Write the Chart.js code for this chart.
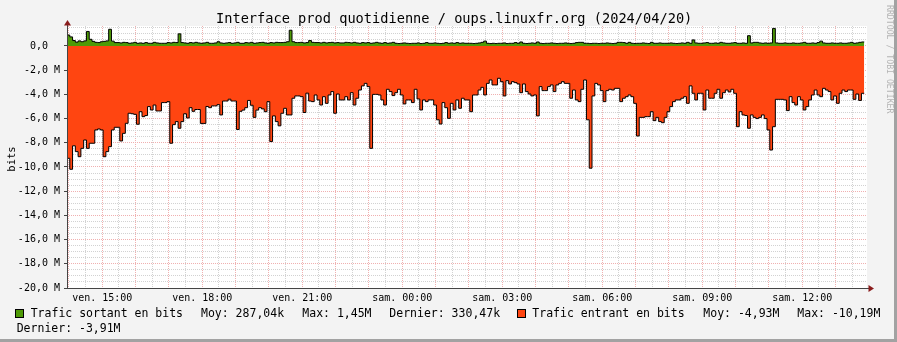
<!DOCTYPE html>
<html lang="fr">
<head>
<meta charset="utf-8">
<title>Interface prod quotidienne</title>
<script src="https://cdn.jsdelivr.net/npm/chart.js@4.4.1/dist/chart.umd.min.js"></script>
<style>
  html, body { margin: 0; padding: 0; }
  body { width: 897px; height: 342px; overflow: hidden; background: #f3f3f3;
         font-family: "DejaVu Sans Mono", monospace; color: #000; }
  #cadre { position: relative; width: 897px; height: 342px; }
  #graphe { position: absolute; left: 0; top: 0; }
  .txt { position: absolute; white-space: pre; line-height: 1.164; }
  #titre { left: 216px; top: 11.3px; font-size: 13.65px; }
  #unite { left: 10.5px; top: 159px; font-size: 10.5px; transform: translate(-50%, -50%) rotate(-90deg); }
  #marque { left: 884px; top: 5px; font-size: 8.2px; color: #b4b4b4; writing-mode: vertical-rl; }
  .leg { font-size: 11.5px; }
  .l1 { top: 306.8px; }
  .l2 { top: 321.8px; }
  .carre { position: absolute; top: 309px; width: 7px; height: 7px; border: 1px solid #000; }
  #ombreD { position: absolute; right: 0; top: 0; width: 3px; height: 342px; background: #a2a2a2; }
  #ombreB { position: absolute; left: 0; bottom: 0; width: 897px; height: 3px; background: #a2a2a2; }
</style>
</head>
<body>
<div id="cadre">
  <canvas id="graphe" width="897" height="342"></canvas>
  <div class="txt" id="titre">Interface prod quotidienne / oups.linuxfr.org (2024/04/20)</div>
  <div class="txt" id="unite">bits</div>
  <div class="txt" id="marque">RRDTOOL / TOBI OETIKER</div>

  <div class="carre" style="left:15px; background:#4e9a06"></div>
  <div class="txt leg l1" style="left:30.7px">Trafic sortant en bits</div>
  <div class="txt leg l1" style="left:201px">Moy: 287,04k</div>
  <div class="txt leg l1" style="left:302.3px">Max: 1,45M</div>
  <div class="txt leg l1" style="left:389.3px">Dernier: 330,47k</div>
  <div class="carre" style="left:517px; background:#ff4511"></div>
  <div class="txt leg l1" style="left:532.3px">Trafic entrant en bits</div>
  <div class="txt leg l1" style="left:703.3px">Moy: -4,93M</div>
  <div class="txt leg l1" style="left:797.3px">Max: -10,19M</div>
  <div class="txt leg l2" style="left:16.7px">Dernier: -3,91M</div>

  <div id="ombreD"></div>
  <div id="ombreB"></div>
</div>
<script>
// une mesure toutes les 5 minutes, en Mbit/s, premiere mesure ven. 13:56:30
const debut = 13 * 60 + 56.5;   // minutes depuis ven. 00:00
const pas = 5;
const duree = 24 * 60;

const sortant = [
  0.9, 0.75, 0.45, 0.32, 0.42, 0.35, 0.42, 1.2, 0.55, 0.38,
  0.3, 0.28, 0.35, 0.38, 0.42, 1.38, 0.4, 0.28, 0.28, 0.25,
  0.3, 0.28, 0.22, 0.25, 0.3, 0.22, 0.25, 0.22, 0.28, 0.22,
  0.22, 0.3, 0.25, 0.22, 0.22, 0.22, 0.28, 0.25, 0.3, 0.28,
  1.0, 0.28, 0.25, 0.22, 0.28, 0.25, 0.3, 0.25, 0.22, 0.25,
  0.3, 0.22, 0.22, 0.25, 0.35, 0.25, 0.22, 0.25, 0.28, 0.22,
  0.25, 0.3, 0.22, 0.22, 0.28, 0.25, 0.3, 0.22, 0.25, 0.28,
  0.3, 0.25, 0.22, 0.28, 0.25, 0.3, 0.28, 0.28, 0.3, 0.35,
  1.3, 0.35, 0.28, 0.28, 0.3, 0.25, 0.28, 0.45, 0.3, 0.28,
  0.28, 0.25, 0.3, 0.25, 0.28, 0.3, 0.25, 0.28, 0.25, 0.25,
  0.3, 0.28, 0.25, 0.3, 0.25, 0.22, 0.28, 0.25, 0.28, 0.22,
  0.25, 0.3, 0.25, 0.22, 0.28, 0.22, 0.25, 0.3, 0.22, 0.2,
  0.22, 0.25, 0.22, 0.2, 0.22, 0.22, 0.25, 0.2, 0.22, 0.28,
  0.22, 0.22, 0.25, 0.22, 0.2, 0.22, 0.28, 0.22, 0.25, 0.22,
  0.28, 0.22, 0.25, 0.22, 0.22, 0.22, 0.2, 0.22, 0.25, 0.3,
  0.4, 0.22, 0.2, 0.22, 0.2, 0.22, 0.22, 0.25, 0.2, 0.22,
  0.22, 0.28, 0.22, 0.33, 0.22, 0.2, 0.22, 0.25, 0.22, 0.33,
  0.22, 0.2, 0.22, 0.22, 0.25, 0.22, 0.2, 0.22, 0.22, 0.25,
  0.22, 0.2, 0.22, 0.28, 0.3, 0.3, 0.22, 0.22, 0.2, 0.22,
  0.22, 0.2, 0.22, 0.22, 0.25, 0.22, 0.2, 0.22, 0.3, 0.3,
  0.28, 0.22, 0.3, 0.22, 0.2, 0.22, 0.22, 0.25, 0.22, 0.2,
  0.3, 0.22, 0.22, 0.25, 0.22, 0.22, 0.22, 0.25, 0.22, 0.2,
  0.22, 0.25, 0.22, 0.3, 0.22, 0.5, 0.25, 0.22, 0.22, 0.25,
  0.28, 0.22, 0.22, 0.25, 0.22, 0.3, 0.25, 0.22, 0.22, 0.25,
  0.28, 0.22, 0.22, 0.25, 0.22, 0.85, 0.25, 0.3, 0.3, 0.25,
  0.22, 0.25, 0.22, 0.25, 1.45, 0.25, 0.22, 0.22, 0.25, 0.22,
  0.22, 0.25, 0.22, 0.22, 0.25, 0.3, 0.22, 0.22, 0.25, 0.22,
  0.28, 0.4, 0.25, 0.22, 0.22, 0.25, 0.22, 0.22, 0.25, 0.22,
  0.22, 0.25, 0.3, 0.22, 0.25, 0.3, 0.33
];

const entrant = [
  -9.28, -10.19, -8.25, -8.73, -9.15, -8.46, -7.77, -8.46, -8.04, -8.04,
  -6.94, -6.86, -6.94, -9.15, -8.73, -8.32, -6.94, -6.72, -6.72, -7.85,
  -7.22, -6.39, -5.56, -5.6, -5.65, -6.47, -5.43, -5.84, -5.75, -5.01,
  -5.29, -4.88, -5.37, -5.37, -4.68, -4.68, -4.6, -8.04, -6.5, -6.25,
  -6.8, -6.25, -5.6, -5.95, -5.1, -5.4, -5.25, -5.25, -6.4, -6.4,
  -5.0, -5.1, -4.95, -4.95, -4.85, -5.7, -4.55, -4.55, -4.4, -4.55,
  -4.55, -6.9, -5.4, -5.3, -5.1, -4.5, -4.9, -5.9, -5.3, -5.1,
  -5.2, -5.43, -4.6, -7.9, -5.78, -6.25, -6.6, -5.56, -5.15, -5.7,
  -5.7, -4.32, -4.13, -4.13, -4.19, -5.5, -3.9, -4.55, -4.6, -4.05,
  -4.46, -4.88, -4.19, -4.74, -4.05, -3.77, -5.56, -3.97, -4.46, -4.46,
  -4.19, -4.46, -3.86, -4.88, -4.32, -3.64, -3.3, -3.09, -3.36, -8.46,
  -4.0, -4.0, -4.05, -4.46, -4.88, -3.58, -3.77, -4.1, -3.86, -3.58,
  -4.05, -4.79, -4.46, -4.46, -4.68, -3.58, -4.38, -5.29, -4.46, -4.6,
  -4.46, -4.46, -4.88, -6.1, -6.45, -4.68, -5.1, -5.98, -4.74, -5.29,
  -4.46, -5.15, -4.32, -4.46, -4.46, -5.43, -4.05, -4.05, -3.64, -3.42,
  -4.05, -3.09, -2.81, -3.22, -3.22, -2.67, -2.95, -4.13, -2.87, -3.14,
  -2.95, -3.03, -3.14, -3.86, -3.14, -3.77, -3.97, -4.13, -4.05, -5.78,
  -3.36, -3.69, -3.69, -3.36, -3.22, -3.77, -3.22, -3.09, -2.95, -3.09,
  -3.09, -4.32, -3.64, -4.46, -4.6, -3.58, -2.81, -6.1, -10.1, -4.13,
  -3.09, -3.22, -3.69, -4.6, -3.69, -3.58, -3.64, -3.5, -3.5, -4.6,
  -4.32, -4.19, -4.05, -4.19, -4.74, -7.44, -5.9, -5.9, -5.84, -5.84,
  -5.43, -6.17, -5.9, -6.25, -6.34, -5.9, -5.43, -5.01, -4.6, -4.46,
  -4.46, -4.32, -4.19, -4.74, -3.3, -3.91, -4.46, -3.91, -3.91, -5.29,
  -3.64, -4.32, -4.32, -3.91, -3.58, -4.32, -3.86, -3.64, -3.8, -3.58,
  -3.91, -6.67, -5.43, -5.7, -5.75, -6.8, -5.7, -5.9, -6.0, -5.9,
  -5.7, -6.0, -6.94, -8.6, -6.67, -4.41, -4.41, -4.41, -4.46, -5.34,
  -4.19, -4.68, -4.88, -4.19, -4.46, -5.29, -5.01, -4.46, -4.05, -3.64,
  -4.05, -4.19, -3.5, -3.64, -3.77, -4.46, -4.13, -4.74, -3.91, -3.64,
  -3.77, -3.64, -3.64, -4.41, -3.97, -4.5, -3.91
];

// graduations
const valeursY = [-20, -18, -16, -14, -12, -10, -8, -6, -4, -2, 0];
const etiquettesY = ['-20,0 M', '-18,0 M', '-16,0 M', '-14,0 M', '-12,0 M', '-10,0 M',
                     '-8,0 M', '-6,0 M', '-4,0 M', '-2,0 M', '0,0  '];
const heuresX = [15, 18, 21, 24, 27, 30, 33, 36];
const etiquettesX = ['ven. 15:00', 'ven. 18:00', 'ven. 21:00', 'sam. 00:00',
                     'sam. 03:00', 'sam. 06:00', 'sam. 09:00', 'sam. 12:00'];
const yMin = -20, yMax = 1.65;

const gris = '#d2d2d2';
const rose = '#f0b0b0';

function serie(valeurs) {
  const pts = valeurs.map((v, k) => ({ x: debut + k * pas, y: v }));
  // la derniere mesure couvre encore un pas
  pts.push({ x: debut + valeurs.length * pas, y: valeurs[valeurs.length - 1] });
  return pts;
}

const fondEtAxes = {
  id: 'fondEtAxes',
  beforeDraw(chart) {
    const { ctx, chartArea: a } = chart;
    ctx.save();
    ctx.fillStyle = '#ffffff';
    ctx.fillRect(a.left, a.top, a.right - a.left, a.bottom - a.top);
    ctx.restore();
  },
  afterDatasetsDraw(chart) {
    const { ctx, chartArea: a } = chart;
    ctx.save();
    ctx.strokeStyle = '#444';
    ctx.lineWidth = 1;
    ctx.beginPath();
    ctx.moveTo(a.left + 0.5, a.bottom + 1);
    ctx.lineTo(a.left + 0.5, a.top - 3);
    ctx.moveTo(a.left - 3, a.bottom + 0.5);
    ctx.lineTo(a.right + 3, a.bottom + 0.5);
    ctx.stroke();
    ctx.fillStyle = '#8a1c1c';
    ctx.beginPath();
    ctx.moveTo(a.left + 0.5, a.top - 6);
    ctx.lineTo(a.left - 3, a.top - 0.5);
    ctx.lineTo(a.left + 4, a.top - 0.5);
    ctx.closePath();
    ctx.fill();
    ctx.beginPath();
    ctx.moveTo(a.right + 7, a.bottom + 0.5);
    ctx.lineTo(a.right + 1.5, a.bottom - 3);
    ctx.lineTo(a.right + 1.5, a.bottom + 4);
    ctx.closePath();
    ctx.fill();
    ctx.restore();
  }
};

const ticksX = [];
for (let m = Math.ceil(debut / 30) * 30; m < debut + duree; m += 30) ticksX.push({ value: m });
const ticksY = [];
for (let v = yMin; v <= yMax; v += 0.5) ticksY.push({ value: v });

new Chart(document.getElementById('graphe'), {
  type: 'line',
  data: {
    datasets: [
      {
        label: 'Trafic entrant en bits',
        data: serie(entrant),
        stepped: true,
        fill: 'origin',
        backgroundColor: '#ff4511',
        borderColor: '#000',
        borderWidth: 1,
        pointRadius: 0
      },
      {
        label: 'Trafic sortant en bits',
        data: serie(sortant),
        stepped: true,
        fill: 'origin',
        backgroundColor: '#4e9a06',
        borderColor: '#000',
        borderWidth: 1,
        pointRadius: 0
      }
    ]
  },
  options: {
    responsive: false,
    animation: false,
    events: [],
    layout: { padding: { top: 26, right: 30, bottom: 40, left: 0 } },
    plugins: {
      legend: { display: false },
      tooltip: { enabled: false },
      title: { display: false }
    },
    scales: {
      x: {
        type: 'linear',
        min: debut,
        max: debut + duree,
        afterBuildTicks: s => { s.ticks = ticksX.map(t => ({ value: t.value })); },
        afterFit: s => { s.height = 14; s.paddingLeft = 0; s.paddingRight = 0; },
        grid: {
          drawTicks: false,
          color: c => (c.tick && c.tick.value % 60 === 0) ? rose : gris
        },
        border: { display: false, dash: [1, 1] },
        ticks: {
          autoSkip: false,
          maxRotation: 0,
          padding: 4,
          color: '#000',
          font: { family: 'DejaVu Sans Mono', size: 10 },
          callback: v => {
            const i = heuresX.indexOf(v / 60);
            return i >= 0 ? etiquettesX[i] : '';
          }
        }
      },
      y: {
        min: yMin,
        max: yMax,
        afterBuildTicks: s => { s.ticks = ticksY.map(t => ({ value: t.value })); },
        afterFit: s => { s.width = 67; s.paddingTop = 0; s.paddingBottom = 0; },
        grid: {
          tickLength: 3,
          color: c => (c.tick && valeursY.includes(c.tick.value)) ? rose : gris,
          tickColor: c => (c.tick && valeursY.includes(c.tick.value)) ? '#444' : 'rgba(0,0,0,0)'
        },
        border: { display: false, dash: [1, 1] },
        ticks: {
          autoSkip: false,
          padding: 4,
          color: '#000',
          font: { family: 'DejaVu Sans Mono', size: 10 },
          callback: v => {
            const i = valeursY.indexOf(v);
            return i >= 0 ? etiquettesY[i] : '';
          }
        }
      }
    }
  },
  plugins: [fondEtAxes]
});
</script>
</body>
</html>
